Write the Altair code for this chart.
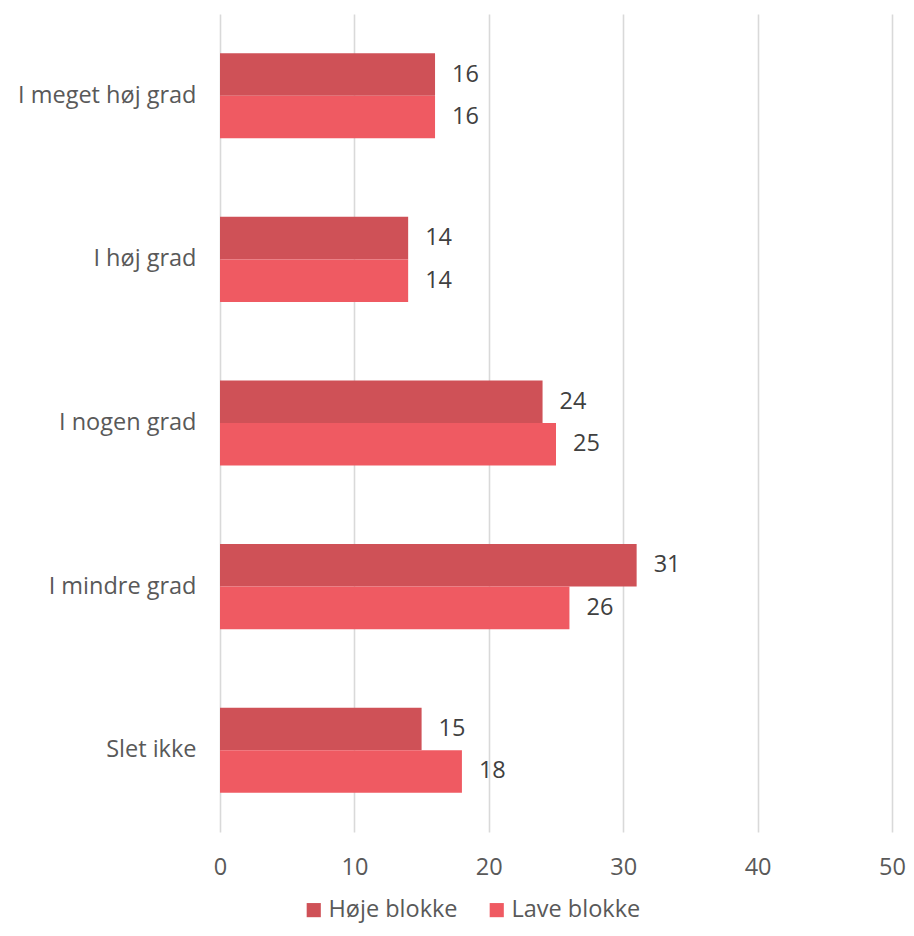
import altair as alt
import pandas as pd

categories = ["I meget høj grad", "I høj grad", "I nogen grad", "I mindre grad", "Slet ikke"]
series = ["Høje blokke", "Lave blokke"]
hoje = [16, 14, 24, 31, 15]
lave = [16, 14, 25, 26, 18]
colors = ["#CF5157", "#EF5A62"]

rows = []
for c, h, l in zip(categories, hoje, lave):
    rows.append({"kategori": c, "serie": series[0], "værdi": h})
    rows.append({"kategori": c, "serie": series[1], "værdi": l})
df = pd.DataFrame(rows)

FONT = "Open Sans"
FS = 23.5

y_enc = alt.Y("kategori:N", sort=categories, title=None,
              scale=alt.Scale(paddingInner=0.48, paddingOuter=0.24),
              axis=alt.Axis(domain=False, ticks=False, labelFontSize=FS, labelColor="#595959",
                            labelFont=FONT, labelPadding=24, labelLimit=300))
yoff = alt.YOffset("serie:N", sort=series, scale=alt.Scale(paddingInner=0, paddingOuter=0))

bars = alt.Chart(df).mark_bar().encode(
    x=alt.X("værdi:Q", title=None, scale=alt.Scale(domain=[0, 50], nice=False),
            axis=alt.Axis(values=[0, 10, 20, 30, 40, 50], domain=False, ticks=False, labelFlush=False,
                          gridColor="#D9D9D9", gridWidth=1.6, labelFontSize=FS, labelColor="#595959",
                          labelFont=FONT, labelPadding=23)),
    y=y_enc,
    yOffset=yoff,
    color=alt.Color("serie:N", sort=series, title=None,
                    scale=alt.Scale(domain=series, range=colors),
                    legend=alt.Legend(orient="none", legendX=82, legendY=884, direction="horizontal",
                                      symbolType="square", symbolSize=200, symbolStrokeWidth=0,
                                      labelFontSize=FS, labelColor="#595959", labelFont=FONT,
                                      columnPadding=27, padding=0, labelOffset=3)),
)

labels = alt.Chart(df).mark_text(align="left", baseline="middle", dx=17, fontSize=FS,
                                 font=FONT, color="#404040").encode(
    x="værdi:Q",
    y=alt.Y("kategori:N", sort=categories),
    yOffset=yoff,
    text="værdi:Q",
)

chart = (bars + labels).properties(
    width=672, height=818,
    autosize=alt.AutoSizeParams(type="none"),
    padding={"left": 212, "top": 6, "right": 14, "bottom": 93},
).configure_view(stroke=None).configure_axis(grid=True).configure_axisY(grid=False)

chart.save("out.html", embed_options={"renderer": "svg", "actions": False})
